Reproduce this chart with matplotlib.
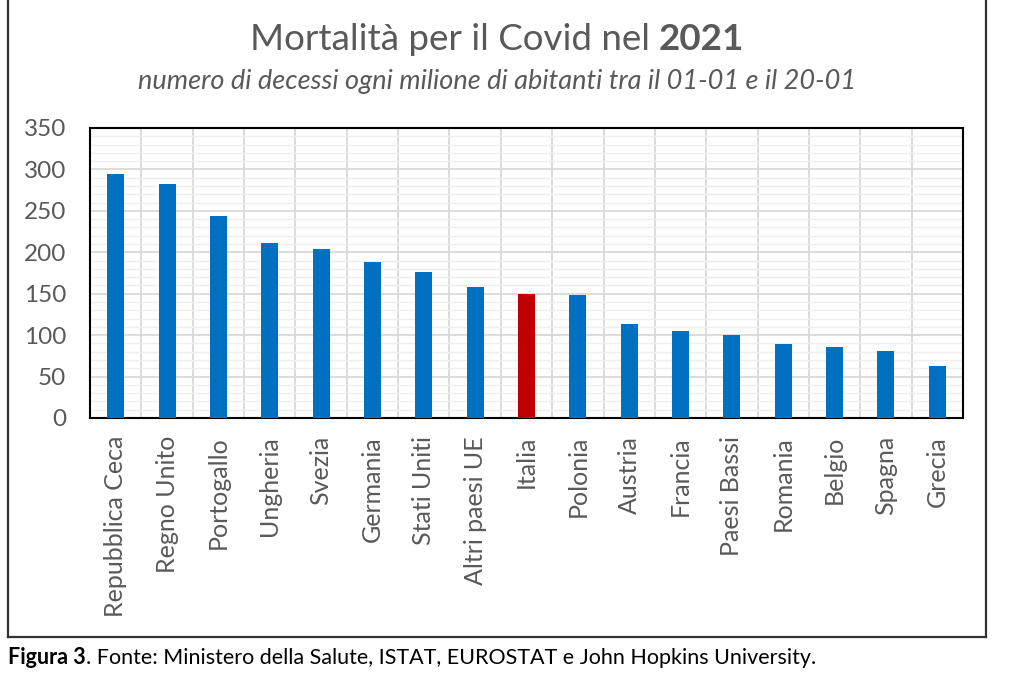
import matplotlib
matplotlib.use("Agg")
import matplotlib.pyplot as plt
from matplotlib.ticker import MultipleLocator
from matplotlib.lines import Line2D

paesi = ["Repubblica Ceca", "Regno Unito", "Portogallo", "Ungheria", "Svezia",
         "Germania", "Stati Uniti", "Altri paesi UE", "Italia", "Polonia",
         "Austria", "Francia", "Paesi Bassi", "Romania", "Belgio", "Spagna", "Grecia"]
decessi = [295, 282, 244, 211, 204, 188, 176, 158, 150, 148,
           113, 105, 100, 89, 86, 81, 63]
evidenziato = "Italia"

BLU = "#0070C0"
ROSSO = "#C00000"
GRIGIO = "#595959"
FONT = "Lato"

plt.rcParams["font.family"] = [FONT, "DejaVu Sans"]

fig = plt.figure(figsize=(10.24, 6.79), dpi=100)
ax = fig.add_axes([90 / 1024, 1 - 418 / 679, 873 / 1024, 290 / 679])

colori = [ROSSO if p == evidenziato else BLU for p in paesi]
x = list(range(len(paesi)))
ax.bar(x, decessi, width=0.33, color=colori, zorder=3)

ax.set_xlim(-0.5, len(paesi) - 0.5)
ax.set_ylim(0, 350)
ax.yaxis.set_major_locator(MultipleLocator(50))
ax.yaxis.set_minor_locator(MultipleLocator(10))
ax.grid(which="major", axis="y", color="#d9d9d9", lw=1.3, zorder=0)
ax.grid(which="minor", axis="y", color="#efefef", lw=1.0, zorder=0)
for i in range(len(paesi) - 1):
    ax.axvline(i + 0.5, color="#d9d9d9", lw=1.3, zorder=0)

ax.set_xticks(x)
ax.set_xticklabels(paesi, rotation=90, fontsize=18, color=GRIGIO)
ax.tick_params(axis="both", which="both", length=0)
ax.tick_params(axis="x", pad=13)
ax.tick_params(axis="y", labelsize=17.5, labelcolor=GRIGIO, pad=17)
for s in ax.spines.values():
    s.set_linewidth(1.5)
    s.set_color("black")

# titolo con "2021" in grassetto
t1 = fig.text(0, 1 - 40 / 679, "Mortalità per il Covid nel ", fontsize=26.5,
              color=GRIGIO, ha="left", va="center")
t2 = fig.text(0, 1 - 40 / 679, "2021", fontsize=26.5, color=GRIGIO,
              fontweight="bold", ha="left", va="center")
fig.canvas.draw()
r = fig.canvas.get_renderer()
w1 = t1.get_window_extent(r).width
w2 = t2.get_window_extent(r).width
x0 = 497 - (w1 + w2) / 2
t1.set_x(x0 / 1024)
t2.set_x((x0 + w1) / 1024)

fig.text(497 / 1024, 1 - 82 / 679,
         "numero di decessi ogni milione di abitanti tra il 01-01 e il 20-01",
         fontsize=19.5, style="italic", color=GRIGIO, ha="center", va="center")

# cornice
for xs, ys in [([8, 8], [0, 637]), ([986, 986], [0, 637]), ([8, 986], [637, 637])]:
    fig.add_artist(Line2D([v / 1024 for v in xs], [1 - v / 679 for v in ys],
                          color="#333333", lw=1.6))

c1 = fig.text(8 / 1024, 1 - 658 / 679, "Figura 3", fontsize=15.5, fontweight="bold",
              ha="left", va="center", color="black")
fig.canvas.draw()
wc = c1.get_window_extent(fig.canvas.get_renderer()).width
fig.text((8 + wc) / 1024, 1 - 658 / 679,
         ". Fonte: Ministero della Salute, ISTAT, EUROSTAT e John Hopkins University.",
         fontsize=15.5, ha="left", va="center", color="black")

fig.savefig("out.png", dpi=100)
